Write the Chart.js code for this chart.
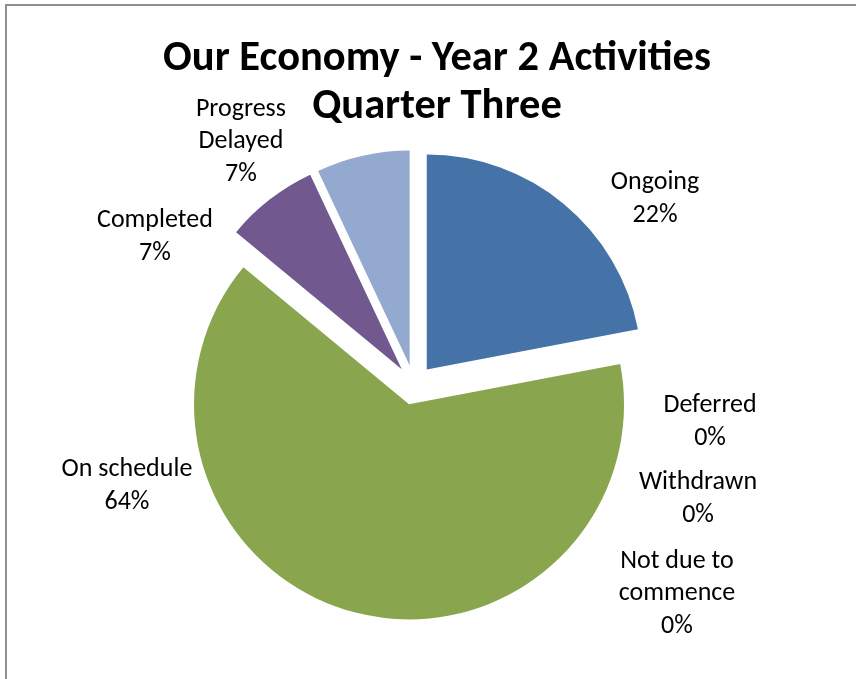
<!DOCTYPE html>
<html>
<head>
<meta charset="utf-8">
<script src="https://cdn.jsdelivr.net/npm/chart.js@4/dist/chart.umd.min.js"></script>
<style>
  html, body { margin: 0; padding: 0; background: #ffffff; }
  #wrap { position: relative; width: 856px; height: 679px; overflow: hidden; }
  #frame { position: absolute; left: 5px; top: 4px; width: 900px; height: 800px;
           border-top: 2px solid #8f8f8f; border-left: 2px solid #8f8f8f; }
  canvas { position: absolute; left: 0; top: 0; }
</style>
</head>
<body>
<div id="wrap">
  <div id="frame"></div>
  <canvas id="c" width="856" height="679"></canvas>
</div>
<script>
// ---- data ----
const titleLines = ['Our Economy - Year 2 Activities', 'Quarter Three'];
const categories = ['Ongoing', 'Deferred', 'Withdrawn', 'Not due to commence', 'On schedule', 'Completed', 'Progress Delayed'];
const categoryLabelLines = [['Ongoing'], ['Deferred'], ['Withdrawn'], ['Not due to', 'commence'], ['On schedule'], ['Completed'], ['Progress', 'Delayed']];
const values = [22, 0, 0, 0, 64, 7, 7];
const sliceColors = ['#4572A7', '#AA4643', '#4198AF', '#DB843D', '#89A54E', '#71588F', '#93A9CF'];

// ---- style ----
const EXPLODE = 20; // px each slice is pulled out along its mid-angle
const labelPlacement = [ // label block centre, in units of pie radius from pie centre
  [1.121, -0.874],
  [1.377, 0.163],
  [1.321, 0.521],
  [1.223, 0.963],
  [-1.335, 0.460],
  [-1.205, -0.698],
  [-0.805, -1.140]
];
const FONT = 'Carlito, Calibri, Lato, sans-serif';

// Explode every slice by the same distance while keeping one common radius
const explodePlugin = {
  id: 'explode',
  afterUpdate(chart) {
    chart.getDatasetMeta(0).data.forEach(arc => {
      if (arc._exploded) return;
      const orig = arc.draw;
      arc.draw = function (ctx) {
        const mid = (this.startAngle + this.endAngle) / 2;
        ctx.save();
        ctx.translate(Math.cos(mid) * EXPLODE, Math.sin(mid) * EXPLODE);
        orig.call(this, ctx);
        ctx.restore();
      };
      arc._exploded = true;
    });
  }
};

const labelPlugin = {
  id: 'excelLabels',
  afterDatasetsDraw(chart) {
    const ctx = chart.ctx;
    const meta = chart.getDatasetMeta(0);
    const total = values.reduce((a, b) => a + b, 0);
    ctx.save();
    ctx.fillStyle = '#000000';
    ctx.textAlign = 'center';
    ctx.textBaseline = 'alphabetic';
    ctx.font = '26px ' + FONT;
    const pitch = 32.5;
    const capHalf = 8.4;
    meta.data.forEach((arc, i) => {
      const r = arc.outerRadius;
      const cx = arc.x + labelPlacement[i][0] * r;
      const cy = arc.y + labelPlacement[i][1] * r;
      const pct = Math.round(values[i] / total * 100) + '%';
      const lines = categoryLabelLines[i].concat([pct]);
      const n = lines.length;
      lines.forEach((t, k) => {
        ctx.fillText(t, cx, cy + (k - (n - 1) / 2) * pitch + capHalf);
      });
    });
    // title
    ctx.font = 'bold 42.5px ' + FONT;
    ctx.fillText(titleLines[0], 437, 70);
    ctx.fillText(titleLines[1], 437, 118);
    ctx.restore();
  }
};

new Chart(document.getElementById('c'), {
  type: 'pie',
  data: {
    labels: categories,
    datasets: [{
      data: values,
      backgroundColor: sliceColors,
      borderWidth: 0,
      offset: 0,
      hoverOffset: 0,
      clip: false
    }]
  },
  options: {
    responsive: false,
    animation: false,
    events: [],
    layout: { padding: { top: 170, bottom: 79, left: 199, right: 227 } },
    plugins: {
      legend: { display: false },
      title: { display: false },
      tooltip: { enabled: false }
    }
  },
  plugins: [explodePlugin, labelPlugin]
});
</script>
</body>
</html>
